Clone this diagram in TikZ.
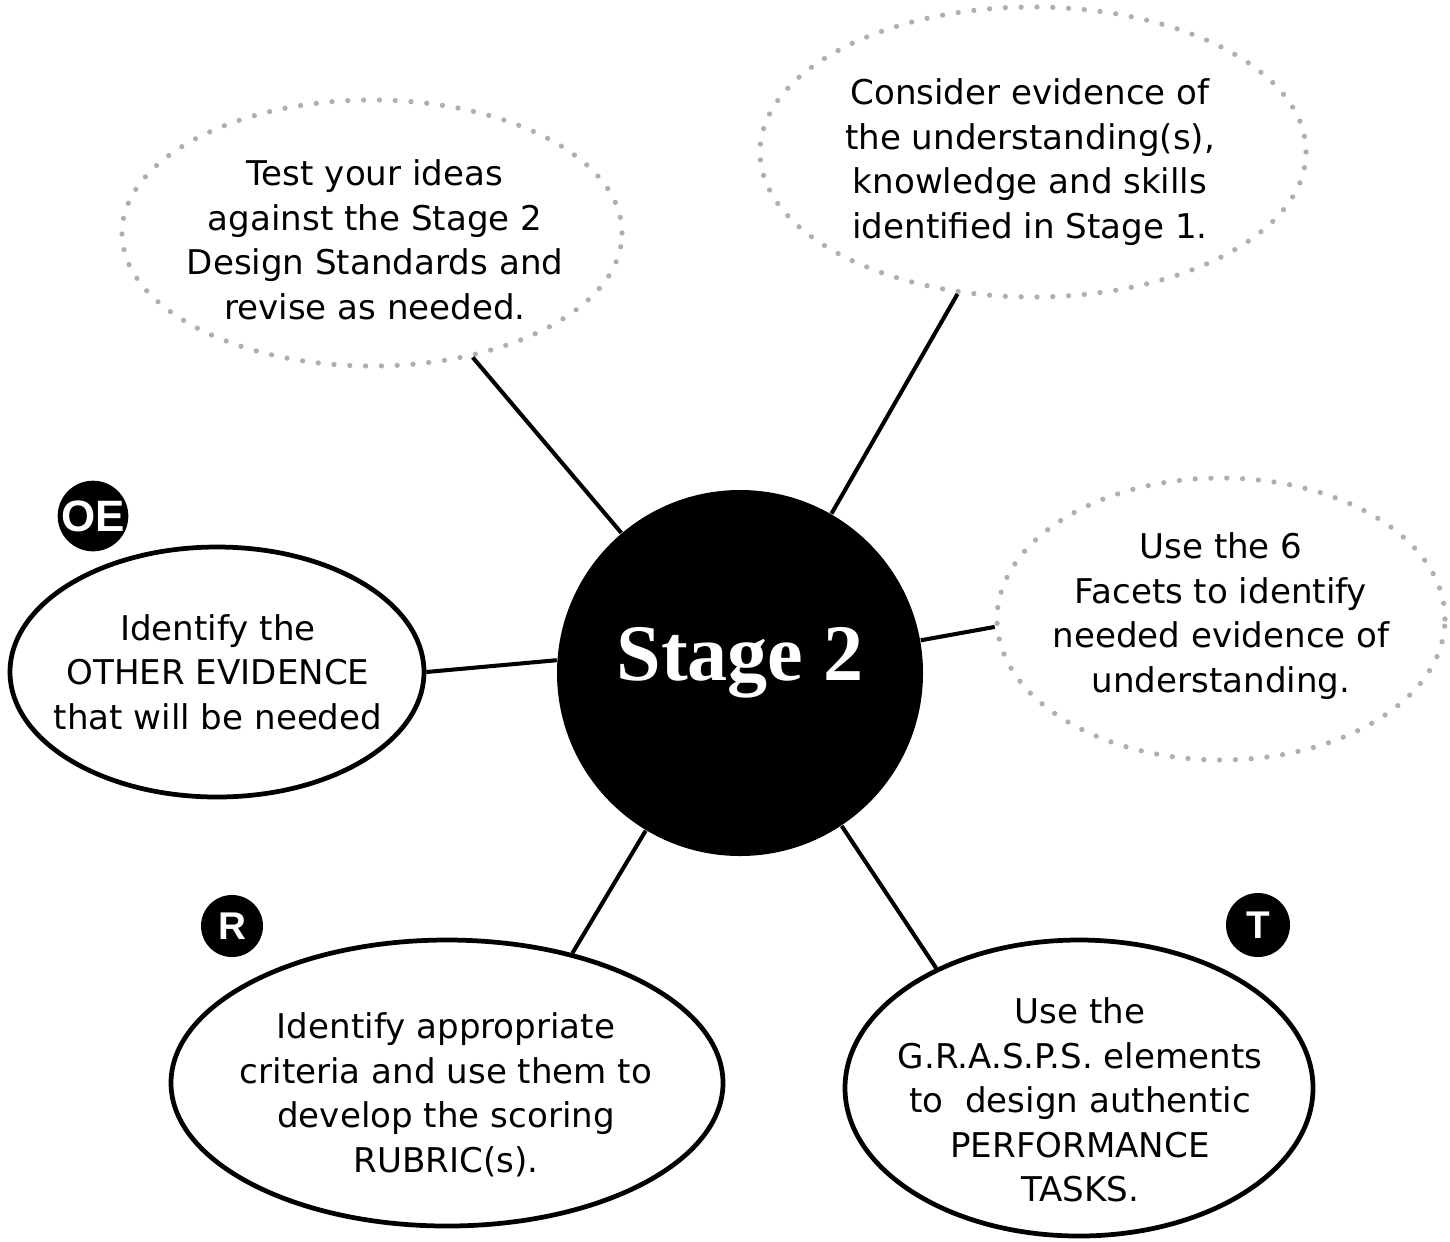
\documentclass[tikz,border=0pt]{standalone}
\usepackage{fontspec}
\setmainfont{DejaVu Sans}
\newfontfamily\stagefont{Liberation Serif}
\newfontfamily\badgefont{Liberation Sans}
\usetikzlibrary{shapes.geometric}
\definecolor{dotgray}{RGB}{175,175,175}
\tikzset{
  bubble/.style={ellipse, draw=dotgray, line width=1.5pt, dash pattern=on 0pt off 4.5pt, line cap=round, inner sep=0pt},
  oval/.style={ellipse, draw, line width=1.35pt, inner sep=0pt},
  hint/.style={align=center, inner sep=0pt, font=\fontsize{9.7}{12.66}\selectfont},
  badge/.style={circle, fill=black, text=white, inner sep=0pt, font=\badgefont\bfseries\fontsize{11}{11}\selectfont},
  link/.style={line width=1.15pt},
}
\begin{document}
\begin{tikzpicture}
      \useasboundingbox (0,0) rectangle (14.5,-12.41);
      \node[circle, fill=black, minimum size=3.66cm, inner sep=0pt] (stage) at (7.40,-6.73) {};
      \node[text=white, font=\stagefont\bfseries\fontsize{22.8}{24}\selectfont] (stagetxt) at ([yshift=1mm]stage) {Stage 2};
      \node[bubble, minimum width=5.00cm, minimum height=2.66cm] (ideas) at (3.72,-2.33) {};
      \node[bubble, minimum width=5.46cm, minimum height=2.90cm] (consider) at (10.33,-1.52) {};
      \node[bubble, minimum width=4.48cm, minimum height=2.82cm] (facets) at (12.21,-6.19) {};
      \node[oval, minimum width=4.14cm, minimum height=2.50cm] (other) at (2.17,-6.72) {};
      \node[oval, minimum width=5.52cm, minimum height=2.86cm] (rubric) at (4.47,-10.83) {};
      \node[oval, minimum width=4.68cm, minimum height=2.96cm] (tasks) at (10.79,-10.88) {};
      \node[hint] (ideastxt) at (3.75,-2.40) {Test your ideas\\against the Stage 2\\Design Standards and\\revise as needed.};
      \node[hint] (considertxt) at (10.30,-1.62) {Consider evidence of\\the understanding(s),\\knowledge and skills\\identified in Stage 1.};
      \node[hint] (facetstxt) at (12.21,-6.16) {Use the 6\\Facets to identify\\needed evidence of\\understanding.};
      \node[hint] (othertxt) at (2.18,-6.72) {Identify the\\OTHER EVIDENCE\\that will be needed};
      \node[hint] (rubrictxt) at (4.46,-10.95) {Identify appropriate\\criteria and use them to\\develop the scoring\\RUBRIC(s).};
      \node[hint] (taskstxt) at (10.80,-11.00) {Use the\\G.R.A.S.P.S. elements\\to\ \ design authentic\\PERFORMANCE\\TASKS.};
      \node[badge, minimum size=0.64cm, font=\badgefont\bfseries\fontsize{12.5}{12.5}\selectfont] (oe) at (0.93,-5.16) {OE};
      \node[badge, minimum size=0.62cm] (r) at (2.32,-9.26) {R};
      \node[badge, minimum size=0.64cm] (t) at (12.58,-9.25) {T};
      \begin{scope}[link]
        \draw (stage) to (ideas.-51);
        \draw (stage) to (consider.242);
        \draw (stage) to (facets.182);
        \draw (stage.176) to (other.east);
        \draw (stage) to (rubric.46);
        \draw (stage) to (tasks.140);
      \end{scope}
    \end{tikzpicture}
\end{document}
